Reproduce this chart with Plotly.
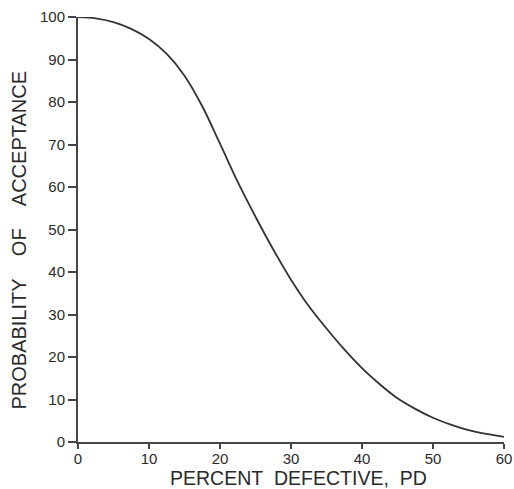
import plotly.graph_objects as go

percent_defective = [0, 2.5, 5, 7.5, 10, 12.5, 15, 17.5, 20, 22.5, 25, 27.5, 30,
                     32.5, 35, 37.5, 40, 42.5, 45, 47.5, 50, 52.5, 55, 57.5, 60]
prob_acceptance = [100, 99.7, 98.8, 97.2, 94.8, 91.3, 86.2, 79.0, 70.2, 61.2, 53.0, 45.3, 38.2,
                   32.0, 26.7, 21.8, 17.4, 13.6, 10.3, 7.8, 5.7, 4.1, 2.8, 1.9, 1.2]
x_ticks = [0, 10, 20, 30, 40, 50, 60]
y_ticks = [0, 10, 20, 30, 40, 50, 60, 70, 80, 90, 100]
x_title = "PERCENT  DEFECTIVE,  PD"
y_title = "PROBABILITY    OF    ACCEPTANCE"

FONT = "Liberation Sans, Arial, sans-serif"
INK = "#2a2a2a"


def nb(s):
    return s.replace(" ", "&nbsp;")


fig = go.Figure()
fig.add_trace(go.Scatter(
    x=percent_defective, y=prob_acceptance, mode="lines",
    line=dict(color="#333333", width=1.8, shape="spline", smoothing=1.0),
    cliponaxis=False, showlegend=False, hoverinfo="skip"))

fig.update_layout(
    width=514, height=489,
    margin=dict(l=78, r=10, t=17, b=47, autoexpand=False),
    paper_bgcolor="white", plot_bgcolor="white",
    font=dict(family=FONT, color=INK),
    xaxis=dict(
        range=[0, 60], tickvals=x_ticks, ticktext=[str(v) for v in x_ticks],
        automargin=False,
        showgrid=False, zeroline=False, showline=True, linecolor="#444444", linewidth=2,
        ticks="outside", ticklen=5, tickwidth=1.5, tickcolor="#444444",
        ticklabelstandoff=-3,
        tickfont=dict(size=15, family=FONT, color=INK),
    ),
    yaxis=dict(
        range=[0, 100], tickvals=y_ticks, ticktext=[str(v) for v in y_ticks],
        automargin=False,
        showgrid=False, zeroline=False, showline=True, linecolor="#444444", linewidth=2,
        ticks="outside", ticklen=8, tickwidth=1.5, tickcolor="#444444",
        tickfont=dict(size=15, family=FONT, color=INK),
    ),
    annotations=[
        dict(text=nb(x_title), xref="paper", yref="paper", x=0.517, y=-0.084,
             xanchor="center", yanchor="middle", showarrow=False,
             font=dict(size=19.5, family=FONT, color=INK)),
        dict(text=nb(y_title), xref="paper", yref="paper", x=-0.1375, y=0.475,
             xanchor="center", yanchor="middle", textangle=-90, showarrow=False,
             font=dict(size=20, family=FONT, color=INK)),
    ],
)

fig.write_html(
    "out.html",
    config={"displayModeBar": False},
    post_script="document.body.style.margin='0';document.body.style.overflow='hidden';",
)
